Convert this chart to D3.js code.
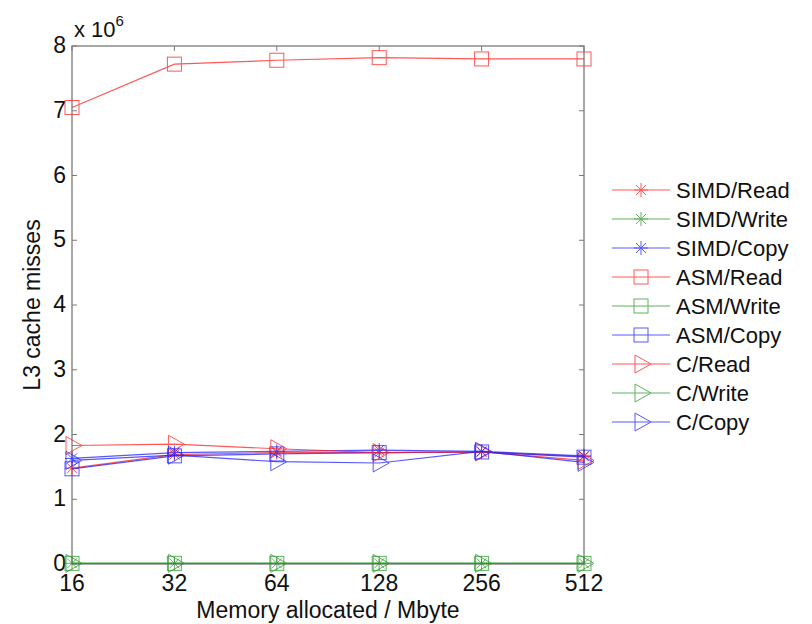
<!DOCTYPE html>
<html>
<head>
<meta charset="utf-8">
<script src="https://cdn.jsdelivr.net/npm/d3@7"></script>
<style>
  body { margin: 0; background: #fff; }
  text { font-family: "Liberation Sans", Arial, sans-serif; fill: #111; }
</style>
</head>
<body>
<svg id="svg"></svg>
<script>
const svgWidth = 812;
const svgHeight = 624;

// memory sizes (MB) and y ticks (x 10^6)
const sizes = [16, 32, 64, 128, 256, 512];
const yTicks = [0, 1, 2, 3, 4, 5, 6, 7, 8];

// L3 cache misses, in millions
const simdRead = [1.48, 1.69, 1.72, 1.72, 1.73, 1.66];
const simdWrite = [0.01, 0.01, 0.01, 0.01, 0.01, 0.01];
const simdCopy = [1.63, 1.72, 1.74, 1.76, 1.74, 1.67];
const asmRead = [7.05, 7.72, 7.78, 7.82, 7.8, 7.8];
const asmWrite = [0.01, 0.01, 0.01, 0.01, 0.01, 0.01];
const asmCopy = [1.47, 1.67, 1.7, 1.72, 1.73, 1.65];
const cRead = [1.83, 1.85, 1.78, 1.72, 1.73, 1.6];
const cWrite = [0.01, 0.01, 0.01, 0.01, 0.01, 0.01];
const cCopy = [1.6, 1.68, 1.58, 1.56, 1.74, 1.57];

const seriesNames = ["SIMD/Read", "SIMD/Write", "SIMD/Copy", "ASM/Read", "ASM/Write", "ASM/Copy", "C/Read", "C/Write", "C/Copy"];
const seriesValues = [simdRead, simdWrite, simdCopy, asmRead, asmWrite, asmCopy, cRead, cWrite, cCopy];
const seriesColors = ["#ff2020", "#2a9a2a", "#2020ff", "#ff2020", "#2a9a2a", "#2020ff", "#ff2020", "#2a9a2a", "#2020ff"];
const seriesMarkers = ["star", "star", "star", "square", "square", "square", "tri", "tri", "tri"];

let svg = d3.select("#svg");
svg.attr("width", svgWidth).attr("height", svgHeight);

const margin = { top: 46, left: 72, right: 228, bottom: 60 };
const chartWidth = svgWidth - margin.left - margin.right;
const chartHeight = svgHeight - margin.top - margin.bottom;

const chart = svg.append("g")
  .attr("transform", "translate(" + margin.left + "," + margin.top + ")");

const xScale = d3.scalePoint().domain(sizes).range([0, chartWidth]);
const yScale = d3.scaleLinear().domain([0, 8]).range([chartHeight, 0]);

// frame
chart.append("rect")
  .attr("width", chartWidth).attr("height", chartHeight)
  .attr("fill", "none").attr("stroke", "#7a7a7a").attr("stroke-width", 1.3);

// ticks inside the box
const tickLen = 5;
chart.selectAll(".ytick").data(yTicks).join("g").each(function (d) {
  const g = d3.select(this);
  const y = yScale(d);
  g.append("line").attr("x1", 0).attr("x2", tickLen).attr("y1", y).attr("y2", y);
  g.append("line").attr("x1", chartWidth).attr("x2", chartWidth - tickLen).attr("y1", y).attr("y2", y);
}).attr("stroke", "#7a7a7a");

chart.selectAll(".xtick").data(sizes).join("g").each(function (d) {
  const g = d3.select(this);
  const x = xScale(d);
  g.append("line").attr("x1", x).attr("x2", x).attr("y1", 0).attr("y2", tickLen);
  g.append("line").attr("x1", x).attr("x2", x).attr("y1", chartHeight).attr("y2", chartHeight - tickLen);
}).attr("stroke", "#7a7a7a");

// tick labels
chart.selectAll(".ylab").data(yTicks).join("text")
  .attr("x", -6).attr("y", d => yScale(d) + 7)
  .attr("text-anchor", "end").style("font-size", "23px")
  .text(d => d);

chart.selectAll(".xlab").data(sizes).join("text")
  .attr("x", d => xScale(d)).attr("y", chartHeight + 27)
  .attr("text-anchor", "middle").style("font-size", "23px")
  .text(d => d);

// exponent
const expo = svg.append("text").attr("x", 74).attr("y", 37).style("font-size", "22px");
expo.append("tspan").text("x 10");
expo.append("tspan").attr("dy", -11).style("font-size", "15px").text("6");

// axis titles
svg.append("text")
  .attr("transform", "translate(40," + (margin.top + chartHeight / 2) + ") rotate(-90)")
  .attr("text-anchor", "middle").style("font-size", "23px")
  .text("L3 cache misses");

svg.append("text")
  .attr("x", margin.left + chartWidth / 2).attr("y", 618)
  .attr("text-anchor", "middle").style("font-size", "23px")
  .text("Memory allocated / Mbyte");

function drawMarker(g, type, color) {
  if (type === "star") {
    const r = 7;
    [[-r, 0, r, 0], [0, -r, 0, r], [-5, -5, 5, 5], [-5, 5, 5, -5]].forEach(s => {
      g.append("line").attr("x1", s[0]).attr("y1", s[1]).attr("x2", s[2]).attr("y2", s[3])
        .attr("stroke", color).attr("stroke-width", 1);
    });
  } else if (type === "square") {
    g.append("rect").attr("x", -7).attr("y", -7).attr("width", 14).attr("height", 14)
      .attr("fill", "none").attr("stroke", color).attr("stroke-width", 1);
  } else {
    g.append("path").attr("d", "M-6,-9L10,0L-6,9Z")
      .attr("fill", "none").attr("stroke", color).attr("stroke-width", 1);
  }
}

const line = d3.line().x((d, i) => xScale(sizes[i])).y(d => yScale(d));

seriesValues.forEach((vals, k) => {
  const g = chart.append("g").attr("opacity", 0.75);
  g.append("path").datum(vals).attr("d", line)
    .attr("fill", "none").attr("stroke", seriesColors[k]).attr("stroke-width", 1.2);
  vals.forEach((v, i) => {
    const m = g.append("g").attr("transform", "translate(" + xScale(sizes[i]) + "," + yScale(v) + ")");
    drawMarker(m, seriesMarkers[k], seriesColors[k]);
  });
});

// legend
const legend = svg.append("g").attr("transform", "translate(612,190)");
seriesNames.forEach((name, k) => {
  const row = legend.append("g").attr("transform", "translate(0," + (k * 29) + ")");
  const g = row.append("g").attr("opacity", 0.75);
  g.append("line").attr("x1", 0).attr("x2", 58).attr("stroke", seriesColors[k]).attr("stroke-width", 1.2);
  const m = g.append("g").attr("transform", "translate(29,0)");
  drawMarker(m, seriesMarkers[k], seriesColors[k]);
  row.append("text").attr("x", 64).attr("y", 8).style("font-size", "22px").text(name);
});
</script>
</body>
</html>
